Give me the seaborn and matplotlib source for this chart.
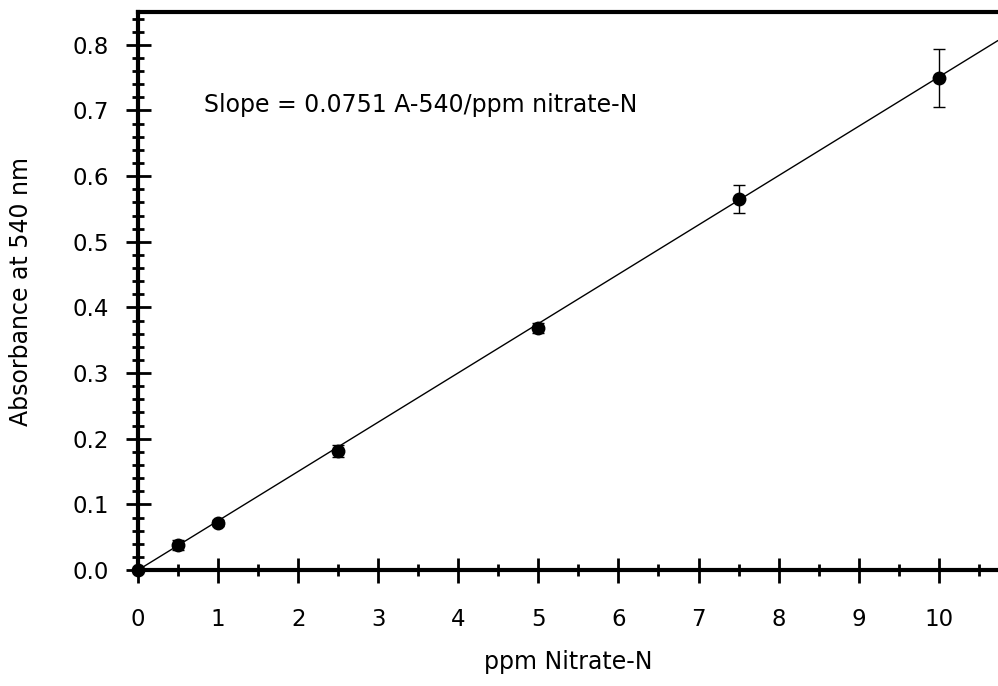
import matplotlib
matplotlib.use("Agg")
import matplotlib.pyplot as plt
import seaborn as sns
import numpy as np
import pandas as pd
from matplotlib.ticker import MultipleLocator

# Calibration data
ppm = [0, 0.5, 1, 2.5, 5, 7.5, 10]
absorbance = [0.0, 0.038, 0.072, 0.181, 0.369, 0.565, 0.750]
abs_err = [0.0, 0.008, 0.005, 0.009, 0.008, 0.021, 0.044]
slope = 0.0751

x_ticks = list(range(0, 11))
y_ticks = [0.0, 0.1, 0.2, 0.3, 0.4, 0.5, 0.6, 0.7, 0.8]
x_max = 10.74
y_max = 0.85

sns.set_style("ticks")
plt.rcParams['font.family'] = ['DejaVu Sans']
plt.rcParams['text.color'] = 'black'
plt.rcParams['axes.labelcolor'] = 'black'

df = pd.DataFrame({'ppm': ppm, 'A540': absorbance, 'err': abs_err})

fig = plt.figure(figsize=(9.98, 6.86), dpi=100)
ax = fig.add_axes([0.1383, 0.169, 0.8617, 0.8135])

# fitted line through origin
x_fit = np.array([0, x_max])
sns.lineplot(x=x_fit, y=slope * x_fit, ax=ax, color='black', linewidth=1.0)

ax.errorbar(df['ppm'], df['A540'], yerr=df['err'], fmt='none',
            ecolor='black', elinewidth=1.0, capsize=4.5, capthick=1.0, zorder=3)
sns.scatterplot(data=df, x='ppm', y='A540', ax=ax, color='black', s=100,
                linewidth=0, zorder=4, clip_on=False)

ax.set_xlim(0, x_max)
ax.set_ylim(0, y_max)

ax.xaxis.set_minor_locator(MultipleLocator(0.5))
ax.yaxis.set_minor_locator(MultipleLocator(0.02))
ax.set_xticks(x_ticks)
ax.set_xticklabels([str(v) for v in x_ticks])
ax.set_yticks(y_ticks)
ax.set_yticklabels(['%.1f' % v for v in y_ticks])

ax.tick_params(which='major', direction='inout', length=18, width=2,
               labelsize=16.5, color='black', labelcolor='black')
ax.tick_params(which='minor', direction='inout', length=9, width=2, color='black')
ax.tick_params(axis='x', which='major', pad=18)
ax.tick_params(axis='y', which='major', pad=12)

for side in ['left', 'bottom', 'top']:
    ax.spines[side].set_linewidth(3)
    ax.spines[side].set_color('black')
ax.spines['right'].set_visible(False)

ax.set_xlabel('ppm Nitrate-N', fontsize=17, labelpad=14)
ax.set_ylabel('Absorbance at 540 nm', fontsize=17, labelpad=28)

ax.text(0.82, 0.709, 'Slope = 0.0751 A-540/ppm nitrate-N', fontsize=17,
        va='center', ha='left')

fig.savefig('out.png', dpi=100)
